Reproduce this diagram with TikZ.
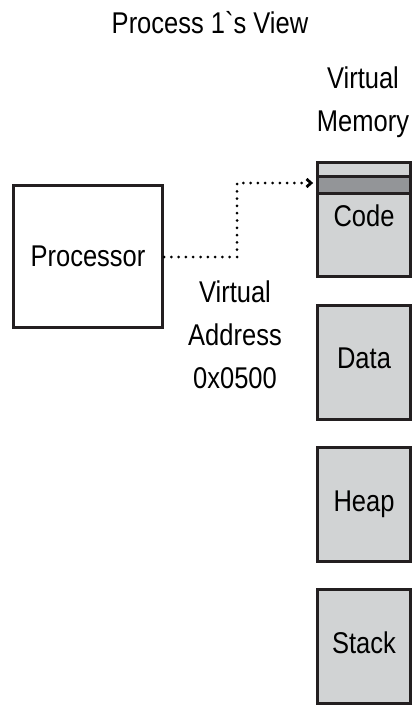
\documentclass[tikz,border=0pt]{standalone}
\usepackage{fontspec}
\newfontfamily\cond{Liberation Sans}[FakeStretch=0.85]
\usetikzlibrary{arrows.meta}
\definecolor{boxfill}{HTML}{D1D3D4}
\definecolor{bandfill}{HTML}{939598}
\definecolor{edge}{HTML}{231F20}
\tikzset{
  lbl/.style={font=\cond\fontsize{30}{43}\selectfont, align=center, inner sep=0pt},
  membox/.style={draw=edge, line width=3pt, fill=boxfill, minimum width=93pt, minimum height=114pt,
     inner sep=0pt, outer sep=0pt, font=\cond\fontsize{30}{43}\selectfont, text height=21pt, text depth=8pt},
  procbox/.style={draw=edge, line width=3pt, fill=white, minimum width=149pt, minimum height=142pt,
     inner sep=0pt, font=\cond\fontsize{30}{43}\selectfont},
  dotline/.style={line width=3pt, line cap=round, dash pattern=on 0pt off 7.3pt, draw=black},
  chevron/.style={line width=2.8pt, draw=black, line cap=butt, line join=miter},
}
\begin{document}
\begin{tikzpicture}[x=1pt,y=-1pt]
\useasboundingbox (0,0) rectangle (418,706);
\node[lbl] (title) at (210,23) {Process 1\symbol{96}s View};
\node[lbl] (vm) at (363,102) {Virtual\\Memory};
\node[procbox] (proc) at (88,256.5) {Processor};
\node[membox] (code) at (364,219.5) {};
\path (code.north west) ++(0,14) coordinate (bandtl);
\path (code.north east) ++(0,14) coordinate (bandtr);
\path (code.north west) ++(0,31) coordinate (bandbl);
\path (code.north east) ++(0,31) coordinate (bandbr);
\fill[bandfill] (bandtl) rectangle (bandbr);
\draw[draw=edge, line width=2.4pt] (bandtl) -- (bandtr) (bandbl) -- (bandbr);
\draw[draw=edge, line width=3pt] (code.north west) rectangle (code.south east);
\node[lbl] (codelbl) at (364,216) {Code};
\node[membox] (data) at (364,362) {Data};
\node[membox] (heap) at (364,504.5) {Heap};
\node[membox] (stack) at (364,646.5) {Stack};
\node[lbl] (va) at (235,335) {Virtual\\Address\\0x0500};
\coordinate (bend1) at (237,257);
\coordinate (bend2) at (237,183);
\coordinate (tip) at (code.west |- bend2);
\draw[dotline] (proc.east |- bend1) -- (bend1) -- (bend2) -- ([xshift=-12pt]tip);
\draw[chevron] ([xshift=-11pt,yshift=-4pt]tip) -- ([xshift=-6.5pt]tip) -- ([xshift=-11pt,yshift=4pt]tip);
\end{tikzpicture}
\end{document}
